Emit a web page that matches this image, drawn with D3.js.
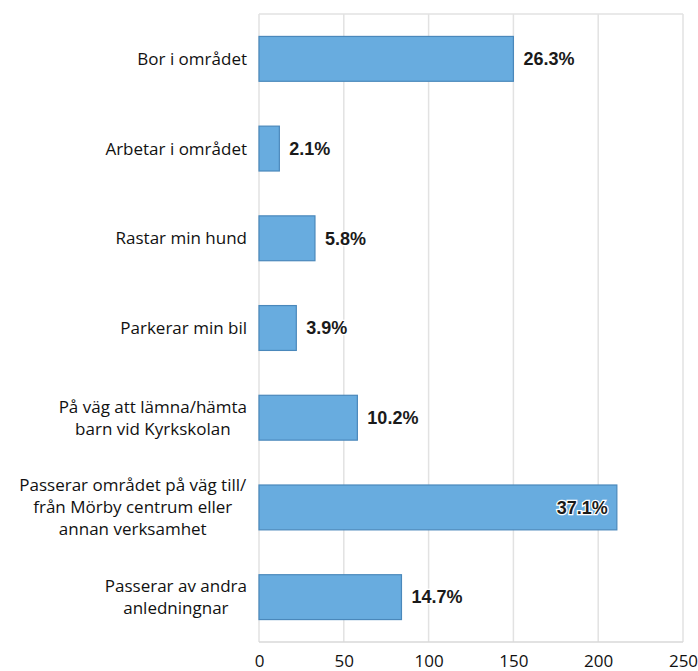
<!DOCTYPE html>
<html>
<head>
<meta charset="utf-8">
<script src="https://cdn.jsdelivr.net/npm/d3@7"></script>
<style>
  body { margin: 0; background: #fff; }
  svg text { font-family: "Open Sans", Lato, sans-serif; }
</style>
</head>
<body>
<div id="chart"></div>
<script>
const categories = [
  ["Bor i området"],
  ["Arbetar i området"],
  ["Rastar min hund"],
  ["Parkerar min bil"],
  ["På väg att lämna/hämta", "barn vid Kyrkskolan"],
  ["Passerar området på väg till/", "från Mörby centrum eller", "annan verksamhet"],
  ["Passerar av andra", "anledningnar"]
];
const counts = [150, 12, 33, 22, 58, 211, 84];
const percents = ["26.3%", "2.1%", "5.8%", "3.9%", "10.2%", "37.1%", "14.7%"];
const xTicks = [0, 50, 100, 150, 200, 250];

const W = 698, H = 671;
const margin = {top: 14, right: 15, bottom: 29, left: 259};
const width = W - margin.left - margin.right,
    height = H - margin.top - margin.bottom;

const svg = d3.select("#chart").append("svg")
    .attr("width", W)
    .attr("height", H);

const g = svg.append("g")
    .attr("transform", `translate(${margin.left}, ${margin.top})`);

const x = d3.scaleLinear().domain([0, 250]).range([0, width]);
const y = d3.scaleBand()
    .domain(d3.range(categories.length))
    .range([0, height])
    .paddingInner(0.5)
    .paddingOuter(0.25);

// grid
g.selectAll(".grid")
    .data(xTicks)
    .enter().append("line")
    .attr("class", "grid")
    .attr("x1", d => x(d)).attr("x2", d => x(d))
    .attr("y1", 0).attr("y2", height)
    .style("stroke", "#e2e2e2")
    .style("stroke-width", 1.5);

g.append("line")
    .attr("x1", 0).attr("x2", width)
    .attr("y1", 0).attr("y2", 0)
    .style("stroke", "#e2e2e2").style("stroke-width", 1.5);
g.append("line")
    .attr("x1", 0).attr("x2", width)
    .attr("y1", height).attr("y2", height)
    .style("stroke", "#d8d8d8").style("stroke-width", 1.5);

// x axis
const xAxis = g.append("g")
    .attr("transform", `translate(0, ${height})`)
    .call(d3.axisBottom(x).tickValues(xTicks).tickSize(0).tickPadding(13));
xAxis.select(".domain").remove();
xAxis.selectAll("text")
    .style("font-size", "17px")
    .style("fill", "#111")
    .style("font-family", "'Open Sans', sans-serif");

// bars
g.selectAll(".bar")
    .data(counts)
    .enter().append("rect")
    .attr("class", "bar")
    .attr("x", x(0))
    .attr("y", (d, i) => y(i))
    .attr("width", d => x(d) - x(0))
    .attr("height", y.bandwidth())
    .style("fill", "#68acdf")
    .style("stroke", "#4a88bb")
    .style("stroke-width", 1.2);

// value labels
g.selectAll(".val")
    .data(counts)
    .enter().append("text")
    .attr("class", "val")
    .attr("x", d => d > 180 ? x(d) - 9 : x(d) + 10)
    .attr("y", (d, i) => y(i) + y.bandwidth() / 2)
    .attr("dy", "0.35em")
    .attr("text-anchor", d => d > 180 ? "end" : "start")
    .style("font-family", "Arial, 'Liberation Sans', sans-serif")
    .style("font-weight", "bold")
    .style("font-size", "18px")
    .style("fill", "#1a1a1a")
    .style("stroke", "#fff")
    .style("stroke-width", 2.5)
    .style("paint-order", "stroke")
    .text((d, i) => percents[i]);

// category labels, centred lines, block right-aligned to the axis
const cat = g.selectAll(".cat")
    .data(categories)
    .enter().append("text")
    .attr("class", "cat")
    .attr("text-anchor", "middle")
    .style("font-size", "17px")
    .style("fill", "#111");

cat.each(function(lines, i) {
    const t = d3.select(this);
    const cy = y(i) + y.bandwidth() / 2;
    const lh = 22;
    const y0 = cy - (lines.length - 1) * lh / 2;
    lines.forEach((l, j) => {
        t.append("tspan")
            .attr("x", -12)
            .attr("y", y0 + j * lh)
            .attr("dy", "0.35em")
            .text(l);
    });
    const bb = this.getBBox();
    const shift = -12 - (bb.x + bb.width);
    t.selectAll("tspan").attr("x", -12 + shift);
});
</script>
</body>
</html>
